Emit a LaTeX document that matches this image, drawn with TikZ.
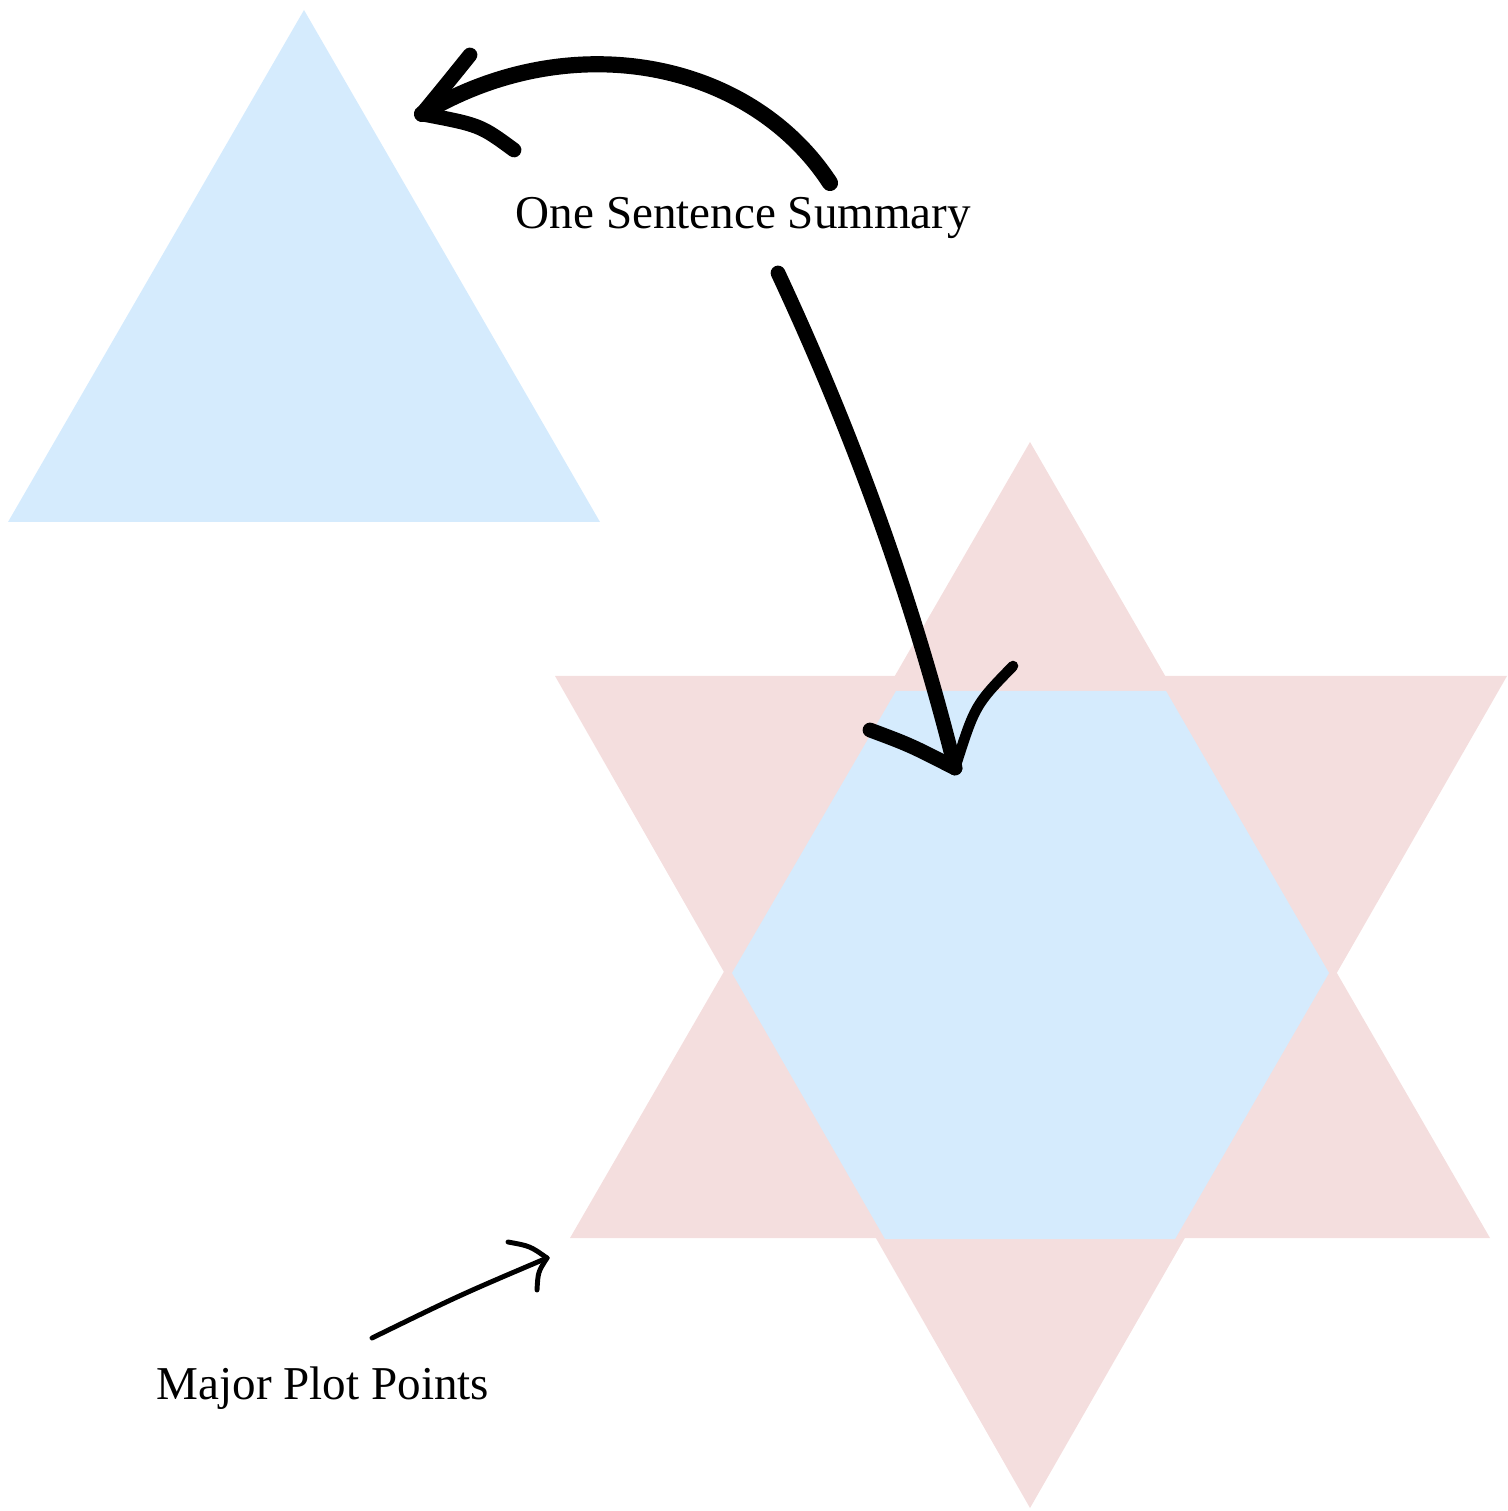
\documentclass[tikz,border=0pt]{standalone}
\usepackage{fontspec}
\setmainfont{Liberation Serif}
\usepackage{xcolor}
\usetikzlibrary{calc}

\definecolor{sky}{RGB}{213,235,253}
\definecolor{rose}{RGB}{244,222,222}

\begin{document}
\begin{tikzpicture}[
  font=\fontsize{13.4}{16}\selectfont,
  line cap=round, line join=round,
  skyfill/.style={fill=sky, draw=none},
  rosefill/.style={fill=rose, draw=none},
  caption/.style={inner sep=0pt, anchor=base, text=black},
  brush/.style={draw=black, line width=4.6pt},
  barb/.style={draw=black, line width=4.2pt},
  pen/.style={draw=black, line width=1.4pt}
]
  \useasboundingbox (0,0) rectangle (15.07,-15.11);

  % star of two triangles, hexagon on top
  \fill[rosefill] (10.30,-4.42) -- (14.90,-12.38) -- (5.70,-12.38) -- cycle;
  \fill[rosefill] (5.55,-6.76) -- (15.07,-6.76) -- (10.30,-15.08) -- cycle;
  \fill[skyfill] (8.96,-6.91) -- (11.66,-6.91) -- (13.29,-9.73)
    -- (11.75,-12.39) -- (8.85,-12.39) -- (7.32,-9.73) -- cycle;

  % single triangle
  \fill[skyfill] (3.04,-0.10) -- (6.00,-5.22) -- (0.08,-5.22) -- cycle;

  \node[caption] (summary) at (7.435,-2.29) {One Sentence Summary};
  \node[caption] (plot) at (3.23,-13.99) {Major Plot Points};

  \coordinate (tritip) at (4.22,-1.14);
  \coordinate (hextip) at (9.55,-7.68);
  \coordinate (startip) at (5.47,-12.58);

  \draw[brush] ([shift={(0.865,0.46)}]summary.base)
    .. controls (7.5,-0.6) and (5.7,-0.25) .. (tritip);
  \draw[barb] (tritip) .. controls (4.45,-0.86) .. (4.70,-0.55);
  \draw[barb] (tritip) .. controls (4.80,-1.25) .. (5.14,-1.50);

  \draw[brush, line width=4.2pt] ([shift={(0.345,-0.44)}]summary.base)
    .. controls (8.55,-4.38) and (9.14,-6.03) .. (hextip);
  \draw[barb] (hextip) .. controls (9.10,-7.45) .. (8.70,-7.30);
  \draw[barb, line width=3pt] (hextip) .. controls (9.75,-7.05) .. (10.13,-6.66);

  \draw[pen] ([shift={(0.49,0.61)}]plot.base)
    .. controls (4.60,-12.95) .. (startip);
  \draw[pen] (startip) .. controls (5.30,-12.46) .. (5.08,-12.42);
  \draw[pen] (startip) .. controls (5.38,-12.72) .. (5.37,-12.90);
\end{tikzpicture}
\end{document}
